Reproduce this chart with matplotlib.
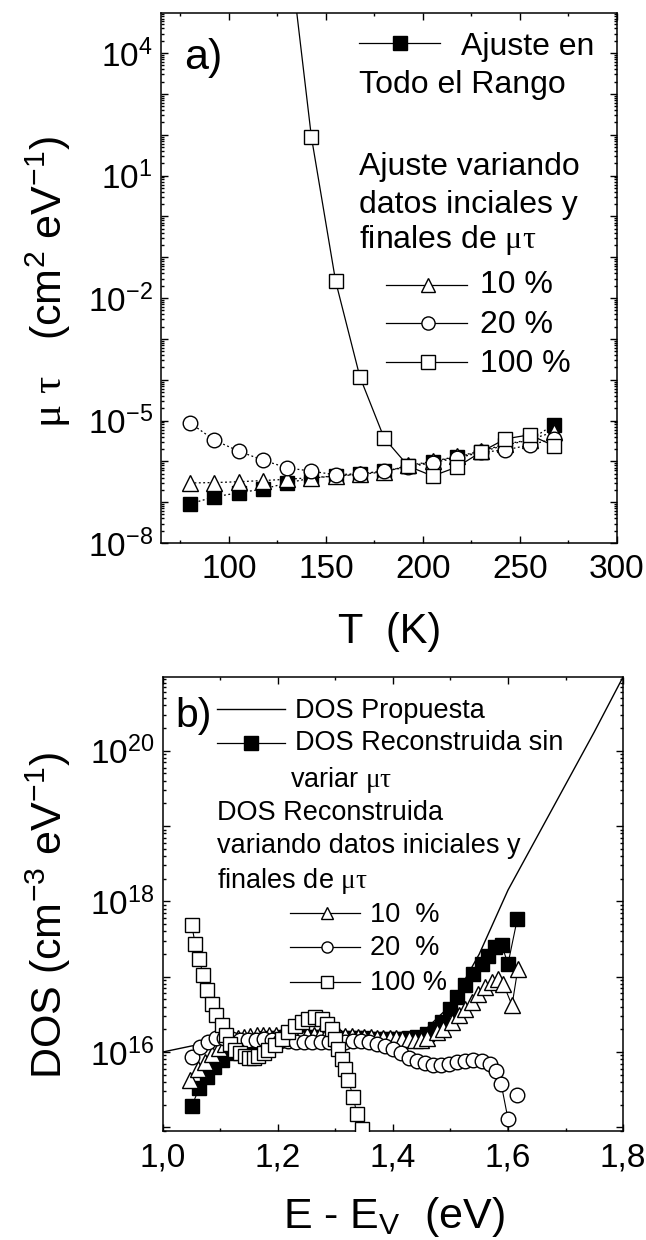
import numpy as np
import matplotlib
matplotlib.use('Agg')
import matplotlib.pyplot as plt
from matplotlib.ticker import LogLocator, FuncFormatter, MultipleLocator, NullFormatter

plt.rcParams['font.family'] = ['Liberation Sans', 'DejaVu Sans']
plt.rcParams['mathtext.fontset'] = 'custom'
plt.rcParams['mathtext.rm'] = 'Liberation Sans'
plt.rcParams['mathtext.it'] = 'Liberation Sans:italic'
plt.rcParams['mathtext.sf'] = 'Liberation Serif'
plt.rcParams['axes.unicode_minus'] = False

# --- panel a): mu*tau vs T (log10 values read off the plot)
T = [80, 92.5, 105, 117.5, 130, 142.5, 155, 167.5, 180, 192.5, 205, 217.5, 230, 242.5, 255, 267.5]
log_todo = [-7.04, -6.87, -6.77, -6.68, -6.53, -6.41, -6.36, -6.31, -6.24, -6.12, -6.01, -5.89, -5.77, -5.60, -5.48, -5.10]
log_10 = [-6.53, -6.52, -6.50, -6.47, -6.44, -6.40, -6.36, -6.32, -6.26, -6.10, -6.00, -5.88, -5.75, -5.58, -5.47, -5.28]
log_20 = [-5.06, -5.48, -5.75, -5.97, -6.16, -6.24, -6.33, -6.30, -6.24, -6.14, -6.03, -5.92, -5.78, -5.72, -5.60, -5.45]
T_100 = [130, 142.5, 155, 167.5, 180, 192.5, 205, 217.5, 230, 242.5, 255, 267.5]
log_100 = [7.0, 1.95, -1.59, -3.93, -5.43, -6.12, -6.36, -6.14, -5.77, -5.45, -5.35, -5.62]

# --- panel b): DOS vs E - Ev (log10 values)
E_prop = [1.0, 1.05, 1.1, 1.2, 1.3, 1.4, 1.45, 1.5, 1.55, 1.6, 1.65, 1.7, 1.75, 1.8]
log_prop = [16.0, 16.08, 16.13, 16.15, 16.15, 16.17, 16.25, 16.62, 17.3, 18.15, 18.85, 19.55, 20.25, 20.98]

E_sin = [1.050, 1.063, 1.077, 1.089, 1.103, 1.116, 1.129, 1.142, 1.155, 1.168, 1.181, 1.194, 1.207,
         1.220, 1.233, 1.246, 1.259, 1.272, 1.285, 1.298, 1.311, 1.324, 1.337, 1.350, 1.363, 1.376,
         1.389, 1.402, 1.415, 1.428, 1.441, 1.459, 1.473, 1.485, 1.499, 1.511, 1.525, 1.539, 1.554,
         1.566, 1.578, 1.589, 1.600, 1.616]
log_sin = [15.28, 15.52, 15.67, 15.80, 15.89, 15.98, 16.05, 16.10, 16.14, 16.16, 16.18, 16.19, 16.20,
           16.20, 16.20, 16.20, 16.20, 16.20, 16.20, 16.20, 16.19, 16.19, 16.18, 16.18, 16.17, 16.17,
           16.17, 16.17, 16.17, 16.18, 16.20, 16.24, 16.30, 16.40, 16.57, 16.73, 16.89, 17.03, 17.17,
           17.28, 17.39, 17.42, 17.17, 17.76]

E_10 = [1.047, 1.061, 1.073, 1.085, 1.097, 1.108, 1.119, 1.130, 1.141, 1.152, 1.163, 1.174, 1.185,
        1.196, 1.207, 1.218, 1.229, 1.240, 1.251, 1.262, 1.273, 1.284, 1.295, 1.306, 1.317, 1.328,
        1.339, 1.350, 1.361, 1.372, 1.383, 1.394, 1.405, 1.416, 1.427, 1.438, 1.449, 1.460, 1.476,
        1.487, 1.502, 1.514, 1.525, 1.537, 1.548, 1.560, 1.572, 1.583, 1.592, 1.607, 1.617]
log_10b = [15.63, 15.78, 15.87, 15.97, 16.05, 16.11, 16.15, 16.18, 16.20, 16.21, 16.22, 16.22, 16.22,
           16.22, 16.22, 16.22, 16.22, 16.22, 16.22, 16.22, 16.22, 16.22, 16.21, 16.21, 16.21, 16.21,
           16.20, 16.20, 16.20, 16.19, 16.19, 16.18, 16.18, 16.17, 16.17, 16.16, 16.16, 16.18, 16.26,
           16.30, 16.40, 16.49, 16.57, 16.66, 16.77, 16.86, 16.93, 16.97, 16.90, 16.62, 17.10]

E_20 = [1.050, 1.064, 1.078, 1.092, 1.106, 1.120, 1.134, 1.148, 1.162, 1.176, 1.190, 1.204, 1.218,
        1.232, 1.246, 1.260, 1.274, 1.288, 1.302, 1.316, 1.330, 1.344, 1.358, 1.372, 1.386, 1.400,
        1.414, 1.428, 1.442, 1.456, 1.470, 1.484, 1.498, 1.512, 1.526, 1.540, 1.554, 1.568, 1.580,
        1.588, 1.600, 1.600, np.nan, 1.616]
log_20b = [15.93, 16.07, 16.13, 16.18, 16.19, 16.17, 16.16, 16.16, 16.16, 16.17, 16.16, 16.15, 16.14,
           16.13, 16.13, 16.13, 16.13, 16.13, 16.12, 16.13, 16.14, 16.14, 16.13, 16.11, 16.08, 16.04,
           15.98, 15.92, 15.88, 15.85, 15.83, 15.83, 15.84, 15.86, 15.88, 15.89, 15.88, 15.84, 15.75,
           15.58, 15.11, 14.50, np.nan, 15.43]

E_100 = [1.050, 1.056, 1.063, 1.070, 1.077, 1.085, 1.092, 1.102, 1.110, 1.117, 1.126, 1.134, 1.142,
         1.150, 1.158, 1.166, 1.175, 1.183, 1.195, 1.207, 1.218, 1.230, 1.242, 1.252, 1.264, 1.276,
         1.285, 1.294, 1.299, 1.305, 1.311, 1.317, 1.322, 1.331, 1.337, 1.346]
log_100b = [17.68, 17.44, 17.23, 17.02, 16.82, 16.64, 16.49, 16.36, 16.22, 16.11, 16.03, 15.98, 15.94,
            15.92, 15.92, 15.94, 15.98, 16.03, 16.09, 16.17, 16.26, 16.34, 16.40, 16.44, 16.46, 16.44,
            16.37, 16.30, 16.17, 16.04, 15.91, 15.77, 15.63, 15.40, 15.18, 14.97]


def pw(v):
    return 10 ** np.array(v, dtype=float)


def log_fmt(keep):
    def f(v, pos):
        e = int(round(np.log10(v)))
        return r'$\mathregular{10^{%d}}$' % e if keep(e) else ''
    return FuncFormatter(f)


def style_axes(ax):
    ax.tick_params(which='both', direction='in', top=True, right=True, labelsize=24, width=1)
    ax.tick_params(which='major', length=5)
    ax.tick_params(which='minor', length=2.5)
    for s in ax.spines.values():
        s.set_linewidth(1.1)


fig = plt.figure(figsize=(6.46, 12.4), dpi=100)

# ---------------- panel a)
ax1 = fig.add_axes([0.2492, 0.5621, 0.7059, 0.4274])
dot = (0, (1.5, 2))
ax1.plot(T, pw(log_todo), ls=dot, lw=0.9, color='k', marker='s', ms=9.5, mfc='k', mec='k', zorder=3)
ax1.plot(T, pw(log_10), ls=dot, lw=0.9, color='k', marker='^', ms=11, mfc='w', mec='k', mew=1, zorder=4)
ax1.plot(T, pw(log_20), ls=dot, lw=0.9, color='k', marker='o', ms=10.5, mfc='w', mec='k', mew=1, zorder=5)
ax1.plot(T_100, pw(log_100), ls='-', lw=0.9, color='k', marker='s', ms=9.5, mfc='w', mec='k', mew=1, zorder=6)

ax1.set_yscale('log')
ax1.set_xlim(65, 300)
ax1.set_ylim(1e-8, 10 ** 4.98)
ax1.xaxis.set_major_locator(MultipleLocator(50))
ax1.xaxis.set_minor_locator(MultipleLocator(25))
ax1.yaxis.set_major_locator(LogLocator(base=10, subs=(1.0,), numticks=30))
ax1.yaxis.set_minor_locator(LogLocator(base=10, subs=np.arange(2, 10), numticks=30))
ax1.yaxis.set_major_formatter(log_fmt(lambda e: (e + 8) % 3 == 0))
ax1.yaxis.set_minor_formatter(NullFormatter())
style_axes(ax1)
ax1.tick_params(axis='x', pad=8)
ax1.tick_params(axis='y', pad=6)

fs_a = 23
tr = ax1.transAxes
ax1.text(0.05, 0.894, 'a)', transform=tr, fontsize=31)
ax1.plot([0.434, 0.612], [0.943, 0.943], transform=tr, color='k', lw=0.9)
ax1.plot([0.524], [0.943], transform=tr, marker='s', ms=9.5, mfc='k', mec='k', ls='none')
ax1.text(0.658, 0.9208, 'Ajuste en', transform=tr, fontsize=fs_a)
ax1.text(0.434, 0.8491, 'Todo el Rango', transform=tr, fontsize=fs_a)
ax1.text(0.434, 0.6943, 'Ajuste variando', transform=tr, fontsize=fs_a)
ax1.text(0.434, 0.6226, 'datos inciales y', transform=tr, fontsize=fs_a)
ax1.text(0.434, 0.5566, r'finales de $\mathsf{\mu\tau}$', transform=tr, fontsize=fs_a)
for yh, yt, mk, lab in [(0.4868, 0.4717, '^', '10 %'), (0.4151, 0.3962, 'o', '20 %'), (0.3415, 0.3226, 's', '100 %')]:
    ax1.plot([0.493, 0.671], [yh, yh], transform=tr, color='k', lw=0.9)
    ax1.plot([0.586], [yh], transform=tr, marker=mk, ms=9.5, mfc='w', mec='k', mew=1, ls='none')
    ax1.text(0.700, yt, lab, transform=tr, fontsize=fs_a)

fig.text(0.075, 0.773, r'$\mathsf{\mu\ \tau}$   (cm$^\mathregular{2}$ eV$^\mathregular{-1}$)',
         rotation=90, ha='center', va='center', fontsize=31)
fig.text(0.603, 0.490, 'T  (K)', ha='center', va='center', fontsize=30)

# ---------------- panel b)
ax2 = fig.add_axes([0.2523, 0.0879, 0.7121, 0.3661])
ax2.plot(E_prop, pw(log_prop), color='k', lw=1.0, zorder=2)
ax2.plot(E_sin, pw(log_sin), color='k', lw=0.8, marker='s', ms=9.5, mfc='k', mec='k', zorder=3)
ax2.plot(E_10, pw(log_10b), color='k', lw=0.8, marker='^', ms=11, mfc='w', mec='k', mew=1, zorder=4)
ax2.plot(E_20, pw(log_20b), color='k', lw=0.8, marker='o', ms=10.5, mfc='w', mec='k', mew=1, zorder=5)
ax2.plot(E_100, pw(log_100b), color='k', lw=0.8, marker='s', ms=9.5, mfc='w', mec='k', mew=1, zorder=6)

ax2.set_yscale('log')
ax2.set_xlim(1.0, 1.8)
ax2.set_ylim(10 ** 14.95, 10 ** 20.98)
ax2.xaxis.set_major_locator(MultipleLocator(0.2))
ax2.xaxis.set_minor_locator(MultipleLocator(0.1))
ax2.xaxis.set_major_formatter(FuncFormatter(lambda v, p: ('%.1f' % v).replace('.', ',')))
ax2.yaxis.set_major_locator(LogLocator(base=10, subs=(1.0,), numticks=30))
ax2.yaxis.set_minor_locator(LogLocator(base=10, subs=np.arange(2, 10), numticks=30))
ax2.yaxis.set_major_formatter(log_fmt(lambda e: e % 2 == 0))
ax2.yaxis.set_minor_formatter(NullFormatter())
style_axes(ax2)
ax2.tick_params(axis='x', pad=8)
ax2.tick_params(axis='y', pad=6)

fs_b = 19.5
tr2 = ax2.transAxes
ax2.text(0.028, 0.89, 'b)', transform=tr2, fontsize=29.5)
ax2.plot([0.1174, 0.2652], [0.9295, 0.9295], transform=tr2, color='k', lw=1.0)
ax2.text(0.287, 0.9097, 'DOS Propuesta', transform=tr2, fontsize=fs_b)
ax2.plot([0.1174, 0.2652], [0.8539, 0.8539], transform=tr2, color='k', lw=0.9)
ax2.plot([0.1913], [0.8539], transform=tr2, marker='s', ms=9.5, mfc='k', mec='k', ls='none')
ax2.text(0.287, 0.8392, 'DOS Reconstruida sin', transform=tr2, fontsize=fs_b)
ax2.text(0.276, 0.7577, r'variar $\mathsf{\mu\tau}$', transform=tr2, fontsize=fs_b)
ax2.text(0.1174, 0.685, 'DOS Reconstruida', transform=tr2, fontsize=fs_b)
ax2.text(0.1174, 0.6123, 'variando datos iniciales y', transform=tr2, fontsize=fs_b)
ax2.text(0.1174, 0.5352, r'finales de $\mathsf{\mu\tau}$', transform=tr2, fontsize=fs_b)
for yh, yt, mk, lab in [(0.4802, 0.4604, '^', '10  %'), (0.4053, 0.3877, 'o', '20  %'), (0.3289, 0.3106, 's', '100 %')]:
    ax2.plot([0.276, 0.428], [yh, yh], transform=tr2, color='k', lw=0.9)
    ax2.plot([0.3565], [yh], transform=tr2, marker=mk, ms=8, mfc='w', mec='k', mew=1, ls='none')
    ax2.text(0.45, yt, lab, transform=tr2, fontsize=fs_b)

fig.text(0.074, 0.2613, r'DOS (cm$^\mathregular{-3}$ eV$^\mathregular{-1}$)',
         rotation=90, ha='center', va='center', fontsize=31)
fig.text(0.61, 0.0097, r'E - E$_\mathregular{V}$  (eV)', ha='center', va='baseline', fontsize=31)

fig.savefig('out.png', dpi=100)
